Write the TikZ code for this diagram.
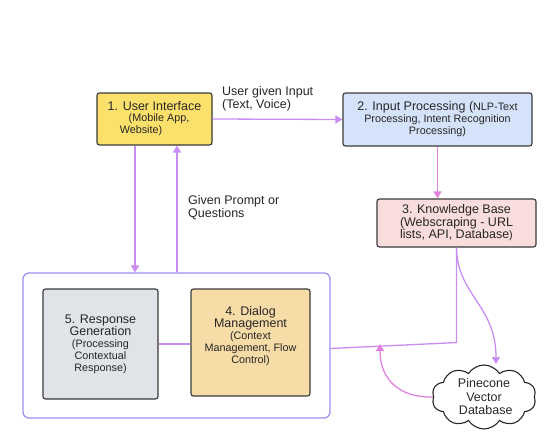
\documentclass[tikz,border=0pt]{standalone}
\usepackage{fontspec}
\setmainfont{Liberation Sans}
\usetikzlibrary{shapes.symbols,arrows.meta}
\definecolor{lav}{HTML}{C98CF2}
\definecolor{pk}{HTML}{E283DE}
\definecolor{contb}{HTML}{9C8EF0}
\definecolor{yel}{HTML}{FBE06B}
\definecolor{blu}{HTML}{D5E3FA}
\definecolor{pnk}{HTML}{F9DCDC}
\definecolor{gry}{HTML}{E0E3E8}
\definecolor{org}{HTML}{F8DCA8}
\definecolor{edge}{HTML}{3A3A3A}
\newcommand{\bigf}{\fontsize{12.5}{13.5}\selectfont}
\newcommand{\smf}{\fontsize{10.8}{13}\selectfont}
\tikzset{
  box/.style={draw=edge, line width=1.1pt, rounded corners=2.5pt, inner sep=0pt, align=center, text=black!85},
  arr/.style={draw=lav, line width=1.3pt, -{Triangle[width=8pt,length=7pt]}},
  parr/.style={draw=pk, line width=1.3pt, -{Triangle[width=8pt,length=7pt]}},
  lbl/.style={align=left, anchor=north west, inner sep=0pt, text=black!85, font=\bigf}
}
\begin{document}
\begin{tikzpicture}[x=1pt,y=-1pt]
\useasboundingbox (0,0) rectangle (558,442);
% container
\node[draw=contb, line width=1.2pt, rounded corners=6pt, minimum width=307pt, minimum height=145pt, inner sep=0pt] (cont) at (176.5,345.5) {};
% boxes
\node[box, fill=yel, minimum width=115pt, minimum height=52pt] (b1) at (154.5,119)
  {{\bigf 1. User Interface}\\[-1pt]{\smf\phantom{1.}(Mobile App,}\\{\smf Website)\phantom{xxxxx}}};
\node[box, fill=blu, minimum width=189pt, minimum height=53pt] (b2) at (437.5,119.5)
  {{\bigf 2. Input Processing (}{\smf NLP-Text}\\{\smf Processing, Intent Recognition}\\{\smf Processing)}};
\node[box, fill=pnk, minimum width=159pt, minimum height=48pt] (b3) at (456.5,223)
  {\bigf 3. Knowledge Base\\[0.5pt] \bigf(Webscraping - URL\\[0.5pt] \bigf lists, API, Database{\smf)}};
\node[box, fill=gry, minimum width=115pt, minimum height=110pt] (b5) at (100.5,344)
  {\bigf 5. Response\\ \bigf Generation\\ {\smf(Processing}\\ {\smf Contextual}\\ {\smf Response)}};
\node[box, fill=org, minimum width=119pt, minimum height=107pt] (b4) at (250.5,342.5)
  {\bigf 4. Dialog\\ \bigf Management\\ {\smf (Context}\\ {\smf Management, Flow}\\ {\smf Control)}\\[4pt]};
\node[cloud, draw=black!85, line width=1.1pt, cloud puffs=10, cloud puff arc=115, aspect=1.6, minimum width=104pt, minimum height=64pt, inner sep=0pt, align=center, text=black!85, font=\bigf] (db) at (484,397)
  {Pinecone\\Vector\\ \ Database};
% labels
\node[lbl] (l1) at (222,86) {User given Input\\(Text, Voice)};
\node[lbl] (l2) at (188,195) {Given Prompt or\\Questions};
% connectors
\draw[arr] (b1.east) -- (b2.west);
\draw[parr] (b2.south) -- (b2.south |- b3.north);
\draw[arr] ([xshift=-19.5pt]b1.south) -- ([xshift=-19.5pt]b1.south |- cont.north);
\draw[arr] ([xshift=22.5pt]b1.south |- cont.north) -- ([xshift=22.5pt]b1.south);
\draw[draw=lav, line width=1.3pt] (b3.south) -- ++(0,95) coordinate (bend) -- ([yshift=-3pt]cont.east);
\draw[draw=lav, line width=1.3pt] (b5.east) -- (b5.east -| b4.west);
\coordinate (dbtop) at (496,364);
\draw[arr] (b3.south) .. controls (457,295) and (496,305) .. (dbtop);
\coordinate (up) at (380,344);
\draw[parr] (db.west) .. controls (400,398) and (380,380) .. (up);
\end{tikzpicture}
\end{document}
